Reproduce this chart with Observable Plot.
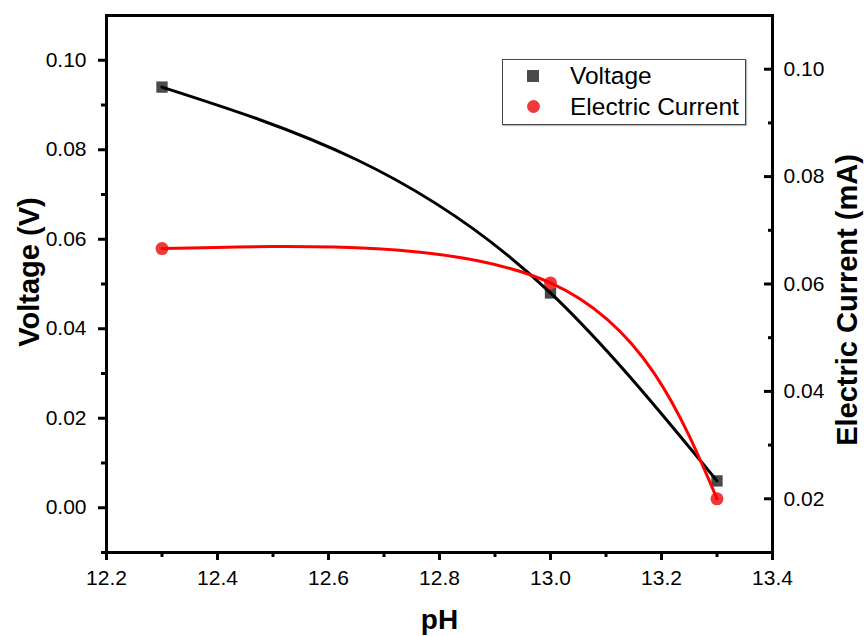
<!DOCTYPE html>
<html>
<head>
<meta charset="utf-8">
<script src="https://cdn.jsdelivr.net/npm/d3@7"></script>
<script src="https://cdn.jsdelivr.net/npm/@observablehq/plot@0.6"></script>
<style>
  html, body { margin: 0; padding: 0; background: #fff; }
  #wrap { position: relative; width: 864px; height: 636px; font-family: "Liberation Sans", Arial, sans-serif; }
  #legend { position: absolute; left: 502px; top: 59px; width: 244px; height: 66px; border: 1px solid #444; box-sizing: border-box; background: #fff; box-shadow: 1px 1px 1px #bbb; }
  .row { position: absolute; left: 0; height: 26px; font-size: 24.5px; line-height: 26px; color: #000; }
  .sym { position: absolute; }
  .lbl { position: absolute; left: 67px; white-space: nowrap; }
</style>
</head>
<body>
<div id="wrap">
  <div id="chart"></div>
  <div id="legend">
    <div class="row" style="top:3px"><div class="sym" style="left:24px;top:7px;width:12px;height:12px;background:#4a4a4a"></div><span class="lbl" style="top:0">Voltage</span></div>
    <div class="row" style="top:34px"><div class="sym" style="left:24px;top:6px;width:13px;height:13px;border-radius:50%;background:#f03a3a"></div><span class="lbl" style="top:0">Electric Current</span></div>
  </div>
</div>
<script>
// Data
const pH = [12.3, 13.0, 13.3];
const voltage = [0.094, 0.048, 0.006];        // V (left axis)
const current = [0.0666, 0.0602, 0.0200];     // mA (right axis)

// Tick values
const xTicks = [12.2, 12.4, 12.6, 12.8, 13.0, 13.2, 13.4];
const xMinor = [12.3, 12.5, 12.7, 12.9, 13.1, 13.3];
const vTicks = [0.00, 0.02, 0.04, 0.06, 0.08, 0.10];
const vMinor = [-0.01, 0.01, 0.03, 0.05, 0.07, 0.09];
const iTicks = [0.02, 0.04, 0.06, 0.08, 0.10];
const iMinor = [0.03, 0.05, 0.07, 0.09];

// Axis domains
const vDomain = [-0.01, 0.11];
const iDomain = [0.01, 0.11];

// map current (right axis) into voltage (left axis) space
const toV = c => vDomain[0] + (c - iDomain[0]) * (vDomain[1] - vDomain[0]) / (iDomain[1] - iDomain[0]);
const fromV = v => iDomain[0] + (v - vDomain[0]) * (iDomain[1] - iDomain[0]) / (vDomain[1] - vDomain[0]);

const rows = pH.map((x, i) => ({pH: x, voltage: voltage[i], current: current[i], currentV: toV(current[i])}));

const tickFont = 21;
const titleFont = 29;
const chart = Plot.plot({
  width: 864,
  height: 636,
  marginLeft: 106,
  marginRight: 92,
  marginTop: 15,
  marginBottom: 84,
  style: {fontFamily: "'Liberation Sans', Arial, sans-serif", background: "#fff", color: "#000"},
  x: {domain: [12.2, 13.4]},
  y: {domain: vDomain},
  marks: [
    // bottom axis
    Plot.axisX(xTicks, {anchor: "bottom", tickSize: 8, tickPadding: 10, strokeWidth: 3, fontSize: tickFont, tickFormat: d3.format(".1f"), label: null}),
    Plot.axisX(xMinor, {anchor: "bottom", tickSize: 5, strokeWidth: 3, tickFormat: () => "", label: null}),
    // left axis
    Plot.axisY(vTicks, {anchor: "left", tickSize: 8, tickPadding: 12, strokeWidth: 3, fontSize: tickFont, tickFormat: d3.format(".2f"), label: null}),
    Plot.axisY(vMinor, {anchor: "left", tickSize: 5, strokeWidth: 3, tickFormat: () => "", label: null}),
    // right axis (current), ticks pointing inward
    Plot.axisY(iTicks.map(toV), {anchor: "right", tickSize: 0, tickPadding: 11, fontSize: tickFont, tickFormat: d => fromV(d).toFixed(2), label: null}),
    Plot.axisY(iTicks.map(toV), {anchor: "right", tickSize: 9, dx: -9, strokeWidth: 3, tickFormat: () => "", label: null}),
    Plot.axisY(iMinor.map(toV), {anchor: "right", tickSize: 5, dx: -5, strokeWidth: 3, tickFormat: () => "", label: null}),
    // axis titles
    Plot.text(["pH"], {frameAnchor: "bottom", dy: 76, fontSize: 28, fontWeight: "bold", textAnchor: "middle"}),
    Plot.text(["Voltage (V)"], {frameAnchor: "left", dx: -77, dy: -12, rotate: -90, textAnchor: "middle", fontSize: titleFont, fontWeight: "bold"}),
    Plot.text(["Electric Current (mA)"], {frameAnchor: "right", dx: 75, dy: 16, rotate: -90, textAnchor: "middle", fontSize: titleFont, fontWeight: "bold"}),
    // symbols
    Plot.dot(rows, {x: "pH", y: "voltage", symbol: "square", r: 6.4, fill: "#4a4a4a"}),
    Plot.dot(rows, {x: "pH", y: "currentV", symbol: "circle", r: 6.5, fill: "#f03a3a"}),
    // smooth connecting lines
    Plot.line(rows, {x: "pH", y: "voltage", curve: "monotone-x", stroke: "#000", strokeWidth: 3}),
    Plot.line(rows, {x: "pH", y: "currentV", curve: "natural", stroke: "#ff0000", strokeWidth: 3}),
    // frame
    Plot.frame({stroke: "#000", strokeWidth: 3})
  ]
});
document.getElementById("chart").appendChild(chart);
</script>
</body>
</html>
